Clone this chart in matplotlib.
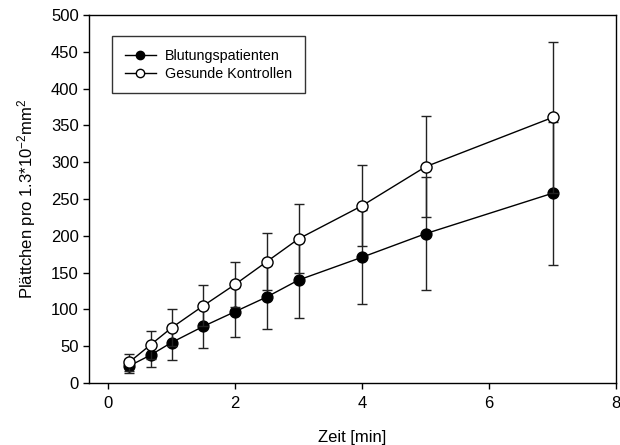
import matplotlib
matplotlib.use("Agg")
import matplotlib.pyplot as plt

plt.rcParams['font.family'] = ['Liberation Sans', 'DejaVu Sans']
plt.rcParams['mathtext.fontset'] = 'custom'
plt.rcParams['mathtext.rm'] = 'Liberation Sans'
plt.rcParams['mathtext.default'] = 'regular'

# Time points [min]
zeit = [0.33, 0.67, 1.0, 1.5, 2.0, 2.5, 3.0, 4.0, 5.0, 7.0]

# Bleeding patients: mean and SD
blutung = [23, 38, 55, 77, 97, 117, 140, 171, 203, 258]
blutung_sd = [10, 16, 24, 30, 34, 43, 52, 64, 77, 97]

# Healthy controls: mean and SD
gesund = [28, 52, 75, 105, 134, 165, 196, 241, 294, 361]
gesund_sd = [11, 19, 25, 28, 31, 39, 47, 55, 69, 103]

fig = plt.figure(figsize=(6.2, 4.45), dpi=100)
ax = fig.add_axes([0.1435, 0.1393, 0.8505, 0.8267])

err_kw = dict(ecolor='#222222', elinewidth=1.0, capsize=3.6, capthick=1.0)

ax.errorbar(zeit, blutung, yerr=blutung_sd, color='black', lw=1.0,
            marker='o', markersize=7.8, markerfacecolor='black',
            markeredgecolor='black', label='Blutungspatienten', zorder=3,
            **err_kw)
ax.errorbar(zeit, gesund, yerr=gesund_sd, color='black', lw=1.0,
            marker='o', markersize=8, markerfacecolor='white',
            markeredgecolor='black', markeredgewidth=1.0,
            label='Gesunde Kontrollen', zorder=4, **err_kw)

ax.set_xlim(-0.3, 8)
ax.set_ylim(0, 500)
ax.set_xticks([0, 2, 4, 6, 8])
ax.set_yticks(range(0, 501, 50))
ax.tick_params(direction='out', length=4.3, width=1.0, labelsize=12,
               colors='black')
ax.tick_params(axis='x', pad=5)
ax.tick_params(axis='y', pad=3)
for s in ax.spines.values():
    s.set_linewidth(1.0)

ax.set_xlabel('Zeit [min]', fontsize=12, labelpad=14)
ax.set_ylabel('Plättchen pro 1.3*10$^{-2}$mm$^{2}$', fontsize=12, labelpad=9)

# Legend without error bars in the handles
handles, labels = ax.get_legend_handles_labels()
handles = [h[0] for h in handles]
leg = ax.legend(handles, labels, loc='upper left',
                bbox_to_anchor=(0.043, 0.943), fontsize=10.3,
                frameon=True, fancybox=False, edgecolor='black',
                handlelength=2.2, handletextpad=0.6, borderpad=0.9,
                labelspacing=0.25, borderaxespad=0.0)
leg.get_frame().set_linewidth(1.0)
for h in leg.legend_handles:
    h.set_markersize(6)

fig.savefig('out.png', dpi=100)
